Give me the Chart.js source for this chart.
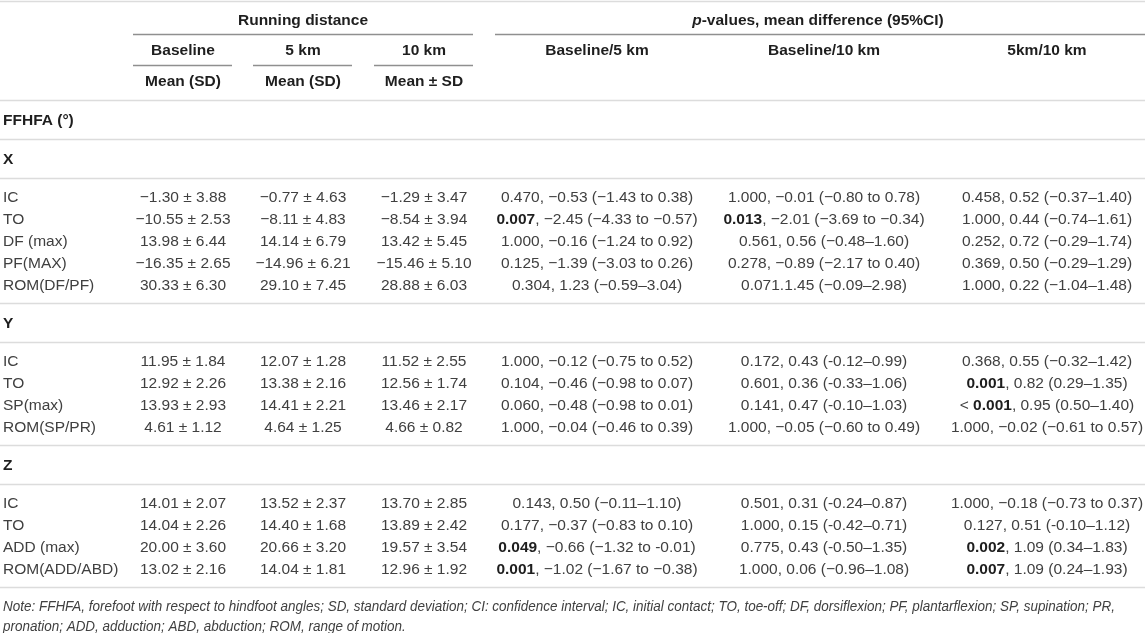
<!DOCTYPE html>
<html>
<head>
<meta charset="utf-8">
<style>
  html, body { margin: 0; padding: 0; background: #fff; }
  #c { display: block; }
</style>
</head>
<body>
<canvas id="c" width="1145" height="633"></canvas>
<script src="https://cdn.jsdelivr.net/npm/chart.js@4.4.1/dist/chart.umd.min.js"></script>
<script>
// ---- table values ----
const groupHeads = ['Running distance', 'p-values, mean difference (95%CI)'];
const colHeads = ['Baseline', '5 km', '10 km', 'Baseline/5 km', 'Baseline/10 km', '5km/10 km'];
const statHeads = ['Mean (SD)', 'Mean (SD)', 'Mean ± SD'];
const topLabel = 'FFHFA (°)';
const sections = ['X', 'Y', 'Z'];

const rowLabelsX = ['IC', 'TO', 'DF (max)', 'PF(MAX)', 'ROM(DF/PF)'];
const baseMeanX = [-1.30, -10.55, 13.98, -16.35, 30.33];
const baseSdX = [3.88, 2.53, 6.44, 2.65, 6.30];
const km5MeanX = [-0.77, -8.11, 14.14, -14.96, 29.10];
const km5SdX = [4.63, 4.83, 6.79, 6.21, 7.45];
const km10MeanX = [-1.29, -8.54, 13.42, -15.46, 28.88];
const km10SdX = [3.47, 3.94, 5.45, 5.10, 6.03];
const b5X = ['0.470, −0.53 (−1.43 to 0.38)', '0.007, −2.45 (−4.33 to −0.57)', '1.000, −0.16 (−1.24 to 0.92)', '0.125, −1.39 (−3.03 to 0.26)', '0.304, 1.23 (−0.59–3.04)'];
const b10X = ['1.000, −0.01 (−0.80 to 0.78)', '0.013, −2.01 (−3.69 to −0.34)', '0.561, 0.56 (−0.48–1.60)', '0.278, −0.89 (−2.17 to 0.40)', '0.071.1.45 (−0.09–2.98)'];
const k510X = ['0.458, 0.52 (−0.37–1.40)', '1.000, 0.44 (−0.74–1.61)', '0.252, 0.72 (−0.29–1.74)', '0.369, 0.50 (−0.29–1.29)', '1.000, 0.22 (−1.04–1.48)'];

const rowLabelsY = ['IC', 'TO', 'SP(max)', 'ROM(SP/PR)'];
const baseMeanY = [11.95, 12.92, 13.93, 4.61];
const baseSdY = [1.84, 2.26, 2.93, 1.12];
const km5MeanY = [12.07, 13.38, 14.41, 4.64];
const km5SdY = [1.28, 2.16, 2.21, 1.25];
const km10MeanY = [11.52, 12.56, 13.46, 4.66];
const km10SdY = [2.55, 1.74, 2.17, 0.82];
const b5Y = ['1.000, −0.12 (−0.75 to 0.52)', '0.104, −0.46 (−0.98 to 0.07)', '0.060, −0.48 (−0.98 to 0.01)', '1.000, −0.04 (−0.46 to 0.39)'];
const b10Y = ['0.172, 0.43 (-0.12–0.99)', '0.601, 0.36 (-0.33–1.06)', '0.141, 0.47 (-0.10–1.03)', '1.000, −0.05 (−0.60 to 0.49)'];
const k510Y = ['0.368, 0.55 (−0.32–1.42)', '0.001, 0.82 (0.29–1.35)', '< 0.001, 0.95 (0.50–1.40)', '1.000, −0.02 (−0.61 to 0.57)'];

const rowLabelsZ = ['IC', 'TO', 'ADD (max)', 'ROM(ADD/ABD)'];
const baseMeanZ = [14.01, 14.04, 20.00, 13.02];
const baseSdZ = [2.07, 2.26, 3.60, 2.16];
const km5MeanZ = [13.52, 14.40, 20.66, 14.04];
const km5SdZ = [2.37, 1.68, 3.20, 1.81];
const km10MeanZ = [13.70, 13.89, 19.57, 12.96];
const km10SdZ = [2.85, 2.42, 3.54, 1.92];
const b5Z = ['0.143, 0.50 (−0.11–1.10)', '0.177, −0.37 (−0.83 to 0.10)', '0.049, −0.66 (−1.32 to -0.01)', '0.001, −1.02 (−1.67 to −0.38)'];
const b10Z = ['0.501, 0.31 (-0.24–0.87)', '1.000, 0.15 (-0.42–0.71)', '0.775, 0.43 (-0.50–1.35)', '1.000, 0.06 (−0.96–1.08)'];
const k510Z = ['1.000, −0.18 (−0.73 to 0.37)', '0.127, 0.51 (-0.10–1.12)', '0.002, 1.09 (0.34–1.83)', '0.007, 1.09 (0.24–1.93)'];

const noteLines = [
  'Note: FFHFA, forefoot with respect to hindfoot angles; SD, standard deviation; CI: confidence interval; IC, initial contact; TO, toe-off; DF, dorsiflexion; PF, plantarflexion; SP, supination; PR,',
  'pronation; ADD, adduction; ABD, abduction; ROM, range of motion.'
];

// ---- layout (table units = px of the page) ----
const W = 1145, H = 633;
const colX = [3, 183, 303, 424, 597, 824, 1047];
const headY = [21, 51, 82];
const FONT = '"Liberation Sans", Arial, sans-serif';
const fData = '15.5px ' + FONT;
const fBold = 'bold 15.5px ' + FONT;
const fNote = 'italic 14px ' + FONT;

function fmt(m, s) {
  return (m.toFixed(2) + ' ± ' + s.toFixed(2)).replace('-', '−');
}
function pCell(s) {
  const m = s.match(/^(<\s)?(\d\.\d{3})(.*)$/);
  if (!m) return [{ t: s }];
  const sig = parseFloat(m[2]) < 0.05;
  return [{ t: m[1] || '' }, { t: m[2], b: sig }, { t: m[3] }];
}

const blocks = [
  [rowLabelsX, baseMeanX, baseSdX, km5MeanX, km5SdX, km10MeanX, km10SdX, b5X, b10X, k510X],
  [rowLabelsY, baseMeanY, baseSdY, km5MeanY, km5SdY, km10MeanY, km10SdY, b5Y, b10Y, k510Y],
  [rowLabelsZ, baseMeanZ, baseSdZ, km5MeanZ, km5SdZ, km10MeanZ, km10SdZ, b5Z, b10Z, k510Z]
];

// columns of cells -> datasets
const cols = [[], [], [], [], [], [], []];
const rules = [{ y: 0.75, x1: 0, x2: W, c: '#dcdcdc' }];
const boldLabels = [];
const heads = [];

// header rows
heads.push({ x: colX[2], y: headY[0], runs: [{ t: groupHeads[0], b: true }] });
heads.push({ x: 818, y: headY[0], runs: [{ t: 'p', b: true, i: true }, { t: groupHeads[1].slice(1), b: true }] });
colHeads.forEach((h, i) => heads.push({ x: colX[i + 1], y: headY[1], runs: [{ t: h, b: true }] }));
statHeads.forEach((h, i) => heads.push({ x: colX[i + 1], y: headY[2], runs: [{ t: h, b: true }] }));
rules.push({ y: 34, x1: 133, x2: 473, c: '#8f8f8f' }, { y: 34, x1: 495, x2: W, c: '#8f8f8f' });
rules.push({ y: 65, x1: 133, x2: 232, c: '#8f8f8f' }, { y: 65, x1: 253, x2: 352, c: '#8f8f8f' }, { y: 65, x1: 374, x2: 473, c: '#8f8f8f' });
rules.push({ y: 100, x1: 0, x2: W, c: '#dcdcdc' });
boldLabels.push({ x: colX[0], y: 121, t: topLabel });
rules.push({ y: 139, x1: 0, x2: W, c: '#dcdcdc' });

let yy = 139;
blocks.forEach((b, s) => {
  boldLabels.push({ x: colX[0], y: yy + 21, t: sections[s] });
  yy += 39;
  rules.push({ y: yy, x1: 0, x2: W, c: '#dcdcdc' });
  let ry = yy + 20;
  b[0].forEach((lab, r) => {
    cols[0].push({ y: ry, runs: [{ t: lab }] });
    cols[1].push({ y: ry, runs: [{ t: fmt(b[1][r], b[2][r]) }] });
    cols[2].push({ y: ry, runs: [{ t: fmt(b[3][r], b[4][r]) }] });
    cols[3].push({ y: ry, runs: [{ t: fmt(b[5][r], b[6][r]) }] });
    cols[4].push({ y: ry, runs: pCell(b[7][r]) });
    cols[5].push({ y: ry, runs: pCell(b[8][r]) });
    cols[6].push({ y: ry, runs: pCell(b[9][r]) });
    ry += 22;
  });
  yy = ry - 22 + 17;
  rules.push({ y: yy, x1: 0, x2: W, c: '#dcdcdc' });
});
const noteY = [yy + 20, yy + 40];

const datasets = cols.map((c, i) => ({
  label: 'col' + i,
  data: c.map(cell => ({ x: colX[i], y: cell.y })),
  runs: c.map(cell => cell.runs),
  align: i === 0 ? 'left' : 'center',
  pointRadius: 0, pointHoverRadius: 0, showLine: false
}));
datasets.push({
  label: 'heads',
  data: heads.map(h => ({ x: h.x, y: h.y })),
  runs: heads.map(h => h.runs),
  align: 'center', pointRadius: 0, pointHoverRadius: 0
});
datasets.push({
  label: 'sections',
  data: boldLabels.map(h => ({ x: h.x, y: h.y })),
  runs: boldLabels.map(h => [{ t: h.t, b: true }]),
  align: 'left', pointRadius: 0, pointHoverRadius: 0
});

function runFont(r) {
  if (r.b && r.i) return 'italic bold 15.5px ' + FONT;
  if (r.b) return fBold;
  if (r.i) return fNote;
  return fData;
}

const tablePlugin = {
  id: 'tableText',
  beforeDatasetsDraw(chart) {
    const ctx = chart.ctx, xs = chart.scales.x, ys = chart.scales.y;
    ctx.save();
    rules.forEach(r => {
      const y = Math.round(ys.getPixelForValue(r.y)) + 0.5;
      ctx.strokeStyle = r.c;
      ctx.lineWidth = r.c === '#dcdcdc' ? 1.5 : 1.3;
      ctx.beginPath();
      ctx.moveTo(xs.getPixelForValue(r.x1), y);
      ctx.lineTo(xs.getPixelForValue(r.x2), y);
      ctx.stroke();
    });
    ctx.restore();
  },
  afterDatasetsDraw(chart) {
    const ctx = chart.ctx, xs = chart.scales.x, ys = chart.scales.y;
    ctx.save();
    ctx.textBaseline = 'middle';
    chart.data.datasets.forEach((ds, di) => {
      const meta = chart.getDatasetMeta(di);
      meta.data.forEach((pt, j) => {
        const runs = ds.runs[j];
        let w = 0;
        runs.forEach(r => { ctx.font = runFont(r); w += ctx.measureText(r.t).width; });
        let x = ds.align === 'left' ? pt.x : pt.x - w / 2;
        runs.forEach(r => {
          ctx.font = runFont(r);
          ctx.fillStyle = (r.b || ds.label === 'heads' || ds.label === 'sections') ? '#1e1e1e' : '#404040';
          ctx.textAlign = 'left';
          ctx.fillText(r.t, x, pt.y);
          x += ctx.measureText(r.t).width;
        });
      });
    });
    // footnote, fitted to the table width
    ctx.font = fNote;
    const target = 1112;
    const sx = target / ctx.measureText(noteLines[0]).width;
    ctx.fillStyle = '#404040';
    noteLines.forEach((t, i) => {
      ctx.save();
      ctx.translate(xs.getPixelForValue(3), ys.getPixelForValue(noteY[i]));
      ctx.scale(sx, 1);
      ctx.fillText(t, 0, 0);
      ctx.restore();
    });
    ctx.restore();
  }
};

new Chart(document.getElementById('c'), {
  type: 'scatter',
  data: { datasets },
  options: {
    responsive: false,
    animation: false,
    layout: { padding: 0 },
    events: [],
    scales: {
      x: { type: 'linear', min: 0, max: W, display: false },
      y: { type: 'linear', min: 0, max: H, reverse: true, display: false }
    },
    plugins: { legend: { display: false }, tooltip: { enabled: false } }
  },
  plugins: [tablePlugin]
});
</script>
</body>
</html>
